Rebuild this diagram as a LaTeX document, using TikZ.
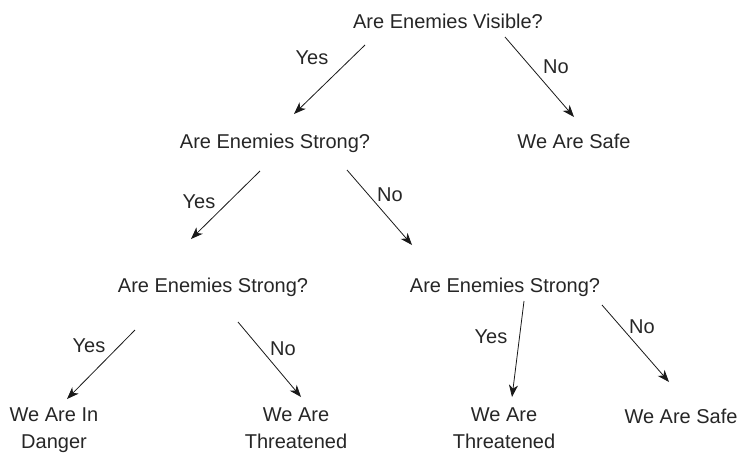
\documentclass[tikz,border=0pt]{standalone}
\usepackage{fontspec}
\setmainfont{Liberation Sans}
\usetikzlibrary{arrows.meta}

\begin{document}
\begin{tikzpicture}[x=1pt,y=-1pt,
    every node/.style={font=\fontsize{20}{27}\selectfont, text=black!85,
        inner sep=0pt, anchor=base, align=center},
    arr/.style={-{Stealth[length=12pt,width=9pt,inset=3.5pt]}, line width=0.8pt, black!90}]
    \useasboundingbox (0,0) rectangle (741,453);

    % questions
    \node (vis)  at (448,28)  {Are Enemies Visible?};
    \node (str1) at (275,148) {Are Enemies Strong?};
    \node (str2) at (213,292) {Are Enemies Strong?};
    \node (str3) at (505,292) {Are Enemies Strong?};

    % answers (base is the last line)
    \node (safe1)  at (574,148) {We Are Safe};
    \node (danger) at (54,448)  {We Are In\\Danger};
    \node (thr1)   at (296,448) {We Are\\Threatened};
    \node (thr2)   at (504,448) {We Are\\Threatened};
    \node (safe2)  at (681,423) {We Are Safe};

    % branch labels
    \node (y1) at (312,64)  {Yes};
    \node (n1) at (556,73)  {No};
    \node (y2) at (199,208) {Yes};
    \node (n2) at (390,201) {No};
    \node (y3) at (89,352)  {Yes};
    \node (n3) at (283,355) {No};
    \node (y4) at (491,343) {Yes};
    \node (n4) at (642,333) {No};

    \draw[arr] ([shift={(-83,17)}]vis.base) -- ([shift={(19,-34)}]str1.base);
    \draw[arr] ([shift={(57,9)}]vis.base) -- ([shift={(0,-31)}]safe1.base);
    \draw[arr] ([shift={(-15,23)}]str1.base) -- ([shift={(-22,-53)}]str2.base);
    \draw[arr] ([shift={(72,22)}]str1.base) -- ([shift={(-93,-47)}]str3.base);
    \draw[arr] ([shift={(-78,38)}]str2.base) -- ([shift={(13,-49)}]danger.base);
    \draw[arr] ([shift={(25,30)}]str2.base) -- ([shift={(5,-51)}]thr1.base);
    \draw[arr] ([shift={(19,9)}]str3.base) -- ([shift={(8,-51)}]thr2.base);
    \draw[arr] ([shift={(97,13)}]str3.base) -- ([shift={(-12,-41)}]safe2.base);
\end{tikzpicture}
\end{document}
